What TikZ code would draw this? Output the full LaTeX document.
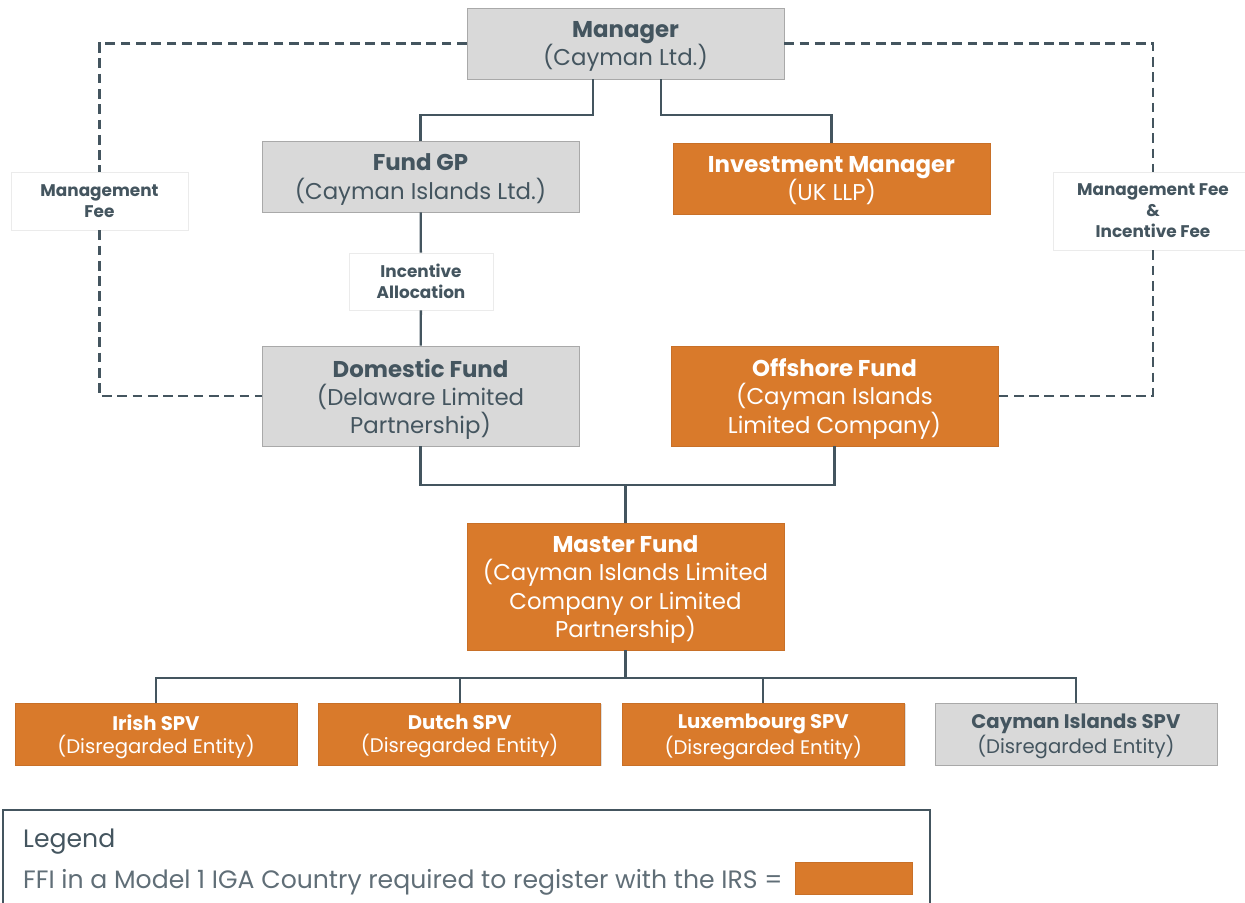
\documentclass[tikz,border=0pt]{standalone}
\usepackage{fontspec}
\setmainfont{Poppins}
\usetikzlibrary{positioning, calc, shadows}
\definecolor{ffiorange}{HTML}{D97A2B}
\definecolor{entgray}{HTML}{D9D9D9}
\definecolor{edgegray}{HTML}{A9A9A9}
\definecolor{slate}{HTML}{44555F}
\tikzset{
  ent/.style={
    rectangle, draw=edgegray, fill=entgray, text=slate,
    align=center, minimum width=6.34cm, minimum height=1.42cm,
    inner sep=1pt, text depth=-4pt, font=\fontsize{13}{16}\selectfont,
    drop shadow={opacity=0.25, shadow xshift=0.8pt, shadow yshift=-0.8pt}
  },
  ffi/.style={ent, draw=ffiorange!92!black, fill=ffiorange, text=white},
  spv/.style={minimum width=5.64cm, minimum height=1.24cm, text depth=-4.6pt,
    font=\fontsize{11.2}{13}\selectfont},
  fee/.style={
    rectangle, draw=black!8, fill=white, text=slate, align=center,
    inner sep=1pt, font=\fontsize{9.6}{12}\selectfont\bfseries
  },
  link/.style={draw=slate, line width=1.3pt},
  feelink/.style={draw=slate, line width=1.2pt, dash pattern=on 5.5pt off 3.2pt}
}

\begin{document}
\begin{tikzpicture}[x=0.02cm, y=-0.02cm]
  \useasboundingbox (0,0) rectangle (1245,903);
  % entities
  \node[ent] (mgr) at (625.5,43.5) {\textbf{Manager}\\(Cayman Ltd.)};
  \node[ent] (gp) at (420.5,176.5) {\textbf{Fund GP}\\(Cayman Islands Ltd.)};
  \node[ffi] (im) at (831.5,178.5) {\textbf{Investment Manager}\\(UK LLP)};
  \node[ent, minimum height=2cm] (dom) at (420.5,396)
    {\textbf{Domestic Fund}\\(Delaware Limited\\Partnership)};
  \node[ffi, minimum height=2cm, minimum width=6.54cm] (off) at (834.5,396)
    {\textbf{Offshore Fund}\\(Cayman Islands\\Limited Company)};
  \node[ffi, minimum height=2.54cm] (mst) at (625.5,586.5)
    {\textbf{Master Fund}\\(Cayman Islands Limited\\Company or Limited\\Partnership)};
  % SPVs
  \node[ffi, spv] (irish) at (156,734) {\textbf{Irish SPV}\\(Disregarded Entity)};
  \node[ffi, spv, right=0.42cm of irish] (dutch) {\textbf{Dutch SPV}\\(Disregarded Entity)};
  \node[ffi, spv, right=0.42cm of dutch] (lux) {\textbf{Luxembourg SPV}\\(Disregarded Entity)};
  \node[ent, spv, right=0.6cm of lux] (cayspv) {\textbf{Cayman Islands SPV}\\(Disregarded Entity)};
  % fee labels
  \node[fee, minimum width=3.54cm, minimum height=1.16cm] (mfl) at (99.5,201)
    {Management\\Fee};
  \node[fee, minimum width=4cm, minimum height=1.56cm] (mfr) at (1153,211)
    {Management Fee\\\&\\Incentive Fee};
  \node[fee, minimum width=2.88cm, minimum height=1.14cm] (inc) at (421,281.5)
    {Incentive\\Allocation};
  % ownership lines
  \draw[link] ([xshift=-0.65cm]mgr.south) -- ++(0,36) -| (gp.north);
  \draw[link] ([xshift=0.71cm]mgr.south) -- ++(0,36) -| (im.north);
  \draw[link] (gp) -- (inc) -- (dom);
  \draw[link] (dom.south) -- ++(0,39) -| (off.south);
  \draw[link] (mst.north) -- ++(0,-38);
  \foreach \s in {irish,dutch,lux,cayspv}{%
    \draw[link] (mst.south) -- ++(0,28) -| (\s.north);}
  % fee flows
  \draw[feelink] (mgr.west) -| (mfl.north);
  \draw[feelink] (mfl.south) |- (dom.west);
  \draw[feelink] (mgr.east) -| (mfr.north);
  \draw[feelink] (mfr.south) |- (off.east);
  % legend
  \draw[slate, line width=1.2pt] (3,920) |- (930,810) -- (930,920);
  \node[anchor=west, text=slate, font=\fontsize{14.3}{16}\selectfont] (legtitle) at (17,842) {Legend};
  \node[anchor=west, text=slate!85, font=\fontsize{14.3}{16}\selectfont] (legtext) at (17,882)
    {FFI in a Model 1 IGA Country required to register with the IRS =};
  \node[rectangle, fill=ffiorange, draw=ffiorange!92!black, minimum width=2.34cm,
        minimum height=0.64cm, inner sep=0pt] (legkey) at (853.5,878) {};
\end{tikzpicture}
\end{document}
